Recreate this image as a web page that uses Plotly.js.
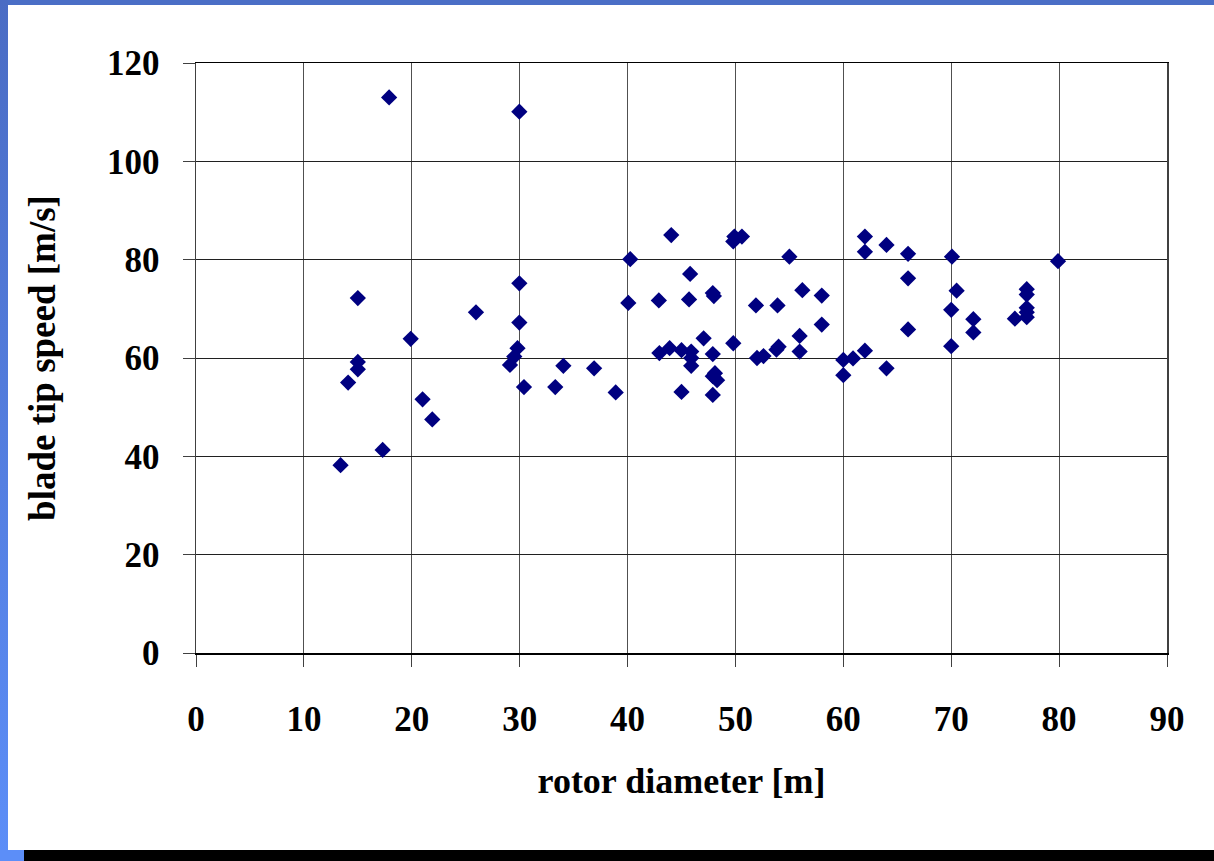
<!DOCTYPE html>
<html>
<head>
<meta charset="utf-8">
<script src="https://cdn.plot.ly/plotly-3.0.1.min.js"></script>
<style>
  html, body { margin: 0; padding: 0; background: #ffffff; }
  body { width: 1214px; height: 861px; position: relative; overflow: hidden; }
  #chart { position: absolute; left: 0; top: 0; width: 1214px; height: 861px; }
  #topbar { position: absolute; left: 0; top: 0; width: 1214px; height: 5px; background: #4a6ec6; z-index: 2; }
  #leftbar { position: absolute; left: 0; top: 0; width: 8px; height: 861px; background: linear-gradient(#4a6cc4, #5c8ef8); z-index: 2; }
  #cornerbar { position: absolute; left: 0; top: 850px; width: 24px; height: 11px; background: #5c8ef8; z-index: 2; }
  #bottombar { position: absolute; left: 24px; top: 850px; width: 1190px; height: 11px; background: #000000; z-index: 2; }
</style>
</head>
<body>
<div id="chart"></div>
<div id="topbar"></div>
<div id="leftbar"></div>
<div id="cornerbar"></div>
<div id="bottombar"></div>
<script>
// rotor diameter [m]
const rotorDiameter = [
  13.4, 14.1, 15.0, 15.0, 15.0, 17.3, 17.9, 19.9, 21.0, 21.9,
  25.95, 29.1, 29.5, 29.8, 29.97, 29.97, 29.97, 30.4, 33.3, 34.05,
  36.9, 38.9, 40.07, 40.25, 42.9, 42.95, 43.9, 44.05, 45.0, 45.0,
  45.7, 45.8, 45.9, 45.9, 45.9, 47.05, 47.9, 48.0, 47.9, 48.1,
  47.9, 48.3, 47.9, 49.8, 49.9, 50.6, 49.8, 51.9, 52.0, 52.6,
  53.9, 54.0, 53.8, 55.0, 55.95, 55.95, 56.2, 58.0, 58.0, 60.0,
  60.0, 60.9, 62.0, 62.0, 62.0, 64.0, 64.0, 66.0, 66.0, 66.0,
  70.07, 70.5, 70.0, 70.0, 72.05, 72.05, 75.9, 77.0, 77.0, 77.0,
  77.0, 77.0, 79.9
];
// blade tip speed [m/s]
const tipSpeed = [
  38.2, 55.0, 72.2, 59.2, 57.7, 41.3, 113.0, 63.9, 51.6, 47.5,
  69.3, 58.6, 60.3, 62.0, 67.2, 75.2, 110.1, 54.1, 54.1, 58.4,
  57.9, 53.0, 71.2, 80.1, 71.7, 61.0, 62.0, 85.0, 61.6, 53.1,
  71.9, 77.1, 61.3, 60.0, 58.4, 64.0, 73.2, 72.6, 60.8, 56.9,
  56.3, 55.5, 52.5, 63.0, 84.7, 84.7, 83.7, 70.7, 60.0, 60.4,
  70.7, 62.3, 61.7, 80.6, 64.5, 61.3, 73.8, 72.7, 66.8, 59.6,
  56.5, 59.9, 61.5, 84.7, 81.6, 83.0, 57.9, 81.2, 76.2, 65.8,
  80.6, 73.7, 69.8, 62.4, 67.9, 65.2, 68.0, 74.0, 72.9, 70.2,
  69.3, 68.3, 79.7
];
const xTickVals = [0, 10, 20, 30, 40, 50, 60, 70, 80, 90];
const yTickVals = [0, 20, 40, 60, 80, 100, 120];

const fontFamily = '"Liberation Serif", "Times New Roman", serif';

const trace = {
  type: 'scatter',
  mode: 'markers',
  x: rotorDiameter,
  y: tipSpeed,
  marker: { symbol: 'diamond', size: 12.5, color: '#000080', line: { width: 0 } },
  hoverinfo: 'skip'
};

const layout = {
  width: 1214,
  height: 861,
  margin: { l: 196, r: 47, t: 63, b: 208 },
  paper_bgcolor: '#ffffff',
  plot_bgcolor: '#ffffff',
  showlegend: false,
  font: { family: fontFamily, size: 35, color: '#000000' },
  xaxis: {
    range: [0, 90],
    tickvals: xTickVals,
    ticktext: xTickVals.map(String),
    showgrid: true,
    gridcolor: '#505050',
    gridwidth: 1,
    zeroline: false,
    showline: true,
    linecolor: '#000000',
    linewidth: 1.5,
    mirror: true,
    ticks: 'outside',
    ticklen: 12,
    tickwidth: 1,
    tickcolor: '#404040',
    ticklabelstandoff: 22,
    tickfont: { family: fontFamily, size: 35, color: '#000000', weight: 'bold' },
    title: { text: 'rotor diameter [m]', font: { family: fontFamily, size: 36, color: '#000000', weight: 'bold' }, standoff: 30 }
  },
  yaxis: {
    range: [0, 120],
    tickvals: yTickVals,
    ticktext: yTickVals.map(String),
    showgrid: true,
    gridcolor: '#202020',
    gridwidth: 1,
    zeroline: false,
    showline: true,
    linecolor: '#404040',
    linewidth: 1.5,
    mirror: true,
    ticks: 'outside',
    ticklen: 12,
    tickwidth: 1,
    tickcolor: '#404040',
    ticklabelstandoff: 16,
    tickfont: { family: fontFamily, size: 35, color: '#000000', weight: 'bold' },
    title: { text: 'blade tip speed [m/s]', font: { family: fontFamily, size: 37, color: '#000000', weight: 'bold' }, standoff: 40 }
  }
};

Plotly.newPlot('chart', [trace], layout, { displayModeBar: false, staticPlot: true });
</script>
</body>
</html>
